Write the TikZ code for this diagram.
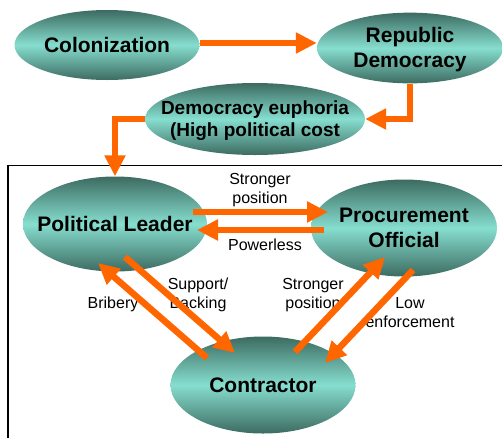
\documentclass[tikz,border=0pt]{standalone}
\usepackage{fontspec}
\setmainfont{Liberation Sans}
\usetikzlibrary{arrows.meta,shapes.geometric,calc}
\definecolor{tdark}{HTML}{3D6B61}
\definecolor{tlight}{HTML}{86DECF}
\definecolor{orng}{HTML}{FF6600}
\newcommand\elltext[1]{\makebox[0pt]{\raisebox{-2pt}[\height][\depth]{\begin{tabular}{@{}c@{}}#1\end{tabular}}}}
\begin{document}
\begin{tikzpicture}[x=1pt,y=-1pt,
  ell/.style={ellipse, inner sep=0pt, top color=tdark, bottom color=tdark, middle color=tlight, font=\fontsize{21}{25}\selectfont\bfseries},
  arr/.style={draw=orng, line width=6.5pt, -{Triangle[length=21pt,width=20pt]}},
  lbl/.style={font=\fontsize{16}{19}\selectfont, align=center, inner sep=0pt}]
\useasboundingbox (0,0) rectangle (502,437);
% frame
\draw[line width=1.3pt] (8,440) -- (8,165.5) -- (505,165.5);
% nodes
\node[ell, minimum width=185pt, minimum height=70pt] (col) at (107,45) {\elltext{Colonization}};
\node[ell, minimum width=186pt, minimum height=70pt] (rep) at (410,48) {\elltext{Republic\\Democracy}};
\node[ell, minimum width=220pt, minimum height=72pt, font=\fontsize{19}{22}\selectfont\bfseries] (eup) at (255,119) {\elltext{Democracy euphoria\\(High political cost}};
\node[ell, minimum width=184pt, minimum height=95pt] (pl) at (115,224) {\elltext{Political Leader}};
\node[ell, minimum width=186pt, minimum height=97pt] (po) at (404,228) {\elltext{Procurement\\Official}};
\node[ell, minimum width=185pt, minimum height=97pt] (co) at (263,385) {\elltext{Contractor}};
% labels
\node[lbl] (l1) at (260,190) {Stronger\\position};
\node[lbl] (l2) at (265,245) {Powerless};
\node[lbl] (l3) at (113,304) {Bribery};
\node[lbl] (l4) at (198,295) {Support/\\Backing};
\node[lbl] (l5) at (313,295) {Stronger\\position};
\node[lbl] (l6) at (410,313) {Low\\enforcement};
% arrows
\draw[arr] ($(col.east)+(0,-2)$) -- ($(col.east -| rep.west)+(0,-2)$);
\draw[arr] (rep.south) |- (eup.east);
\draw[arr] (eup.west) -| (pl.north);
\draw[arr] ($(pl)+(78,-12)$) -- ($(po)+(-76,-16)$);
\draw[arr] ($(po)+(-80,2)$) -- ($(pl)+(82,6)$);
\draw[arr] ($(co)+(-56,-27)$) -- ($(pl)+(-17,39)$);
\draw[arr] ($(pl)+(10,33)$) -- ($(co)+(-28,-32)$);
\draw[arr] ($(co)+(32,-33)$) -- ($(po)+(-19,29)$);
\draw[arr] ($(po)+(9,42)$) -- ($(co)+(62,-22)$);
\end{tikzpicture}
\end{document}
